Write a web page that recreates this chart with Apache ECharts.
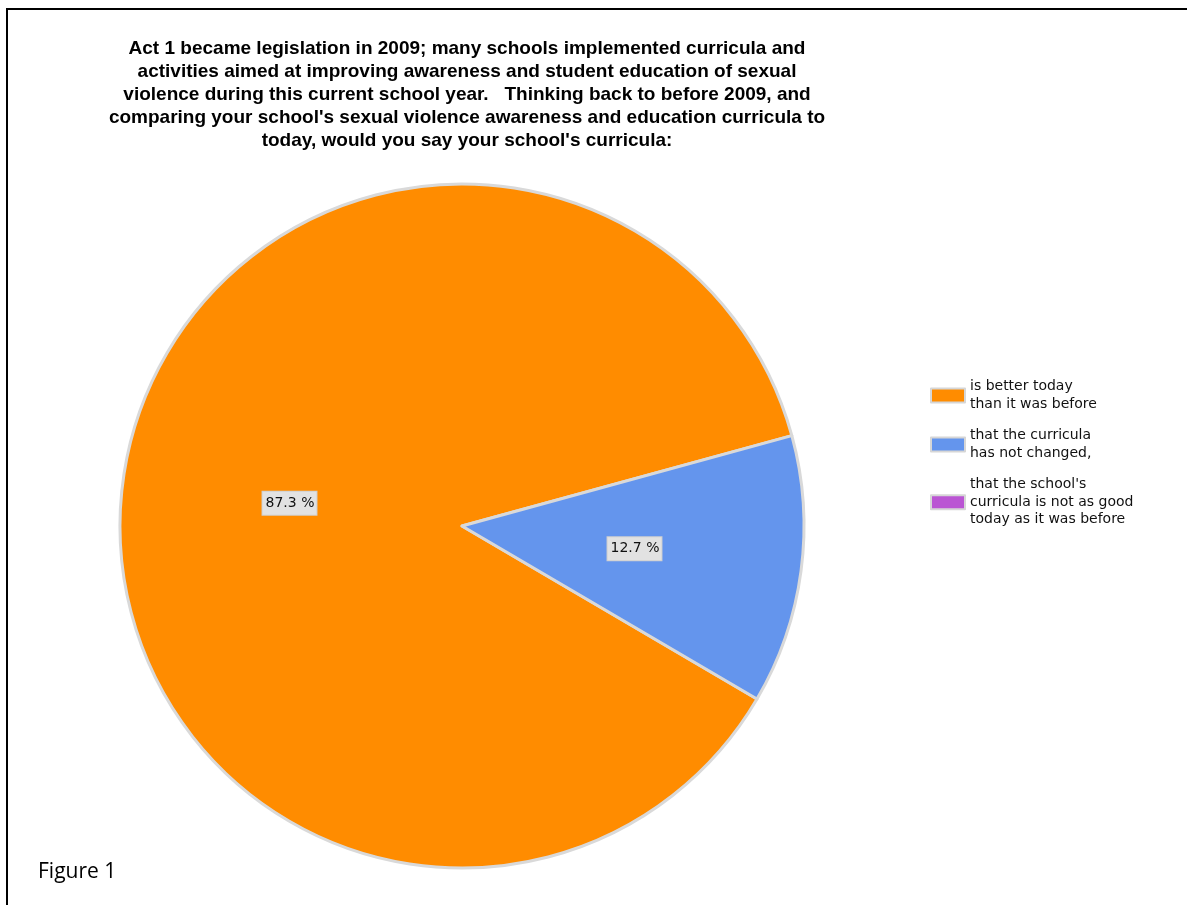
<!DOCTYPE html>
<html>
<head>
<meta charset="utf-8">
<title>Act 1 curricula survey</title>
<script src="https://cdn.jsdelivr.net/npm/echarts@6/dist/echarts.min.js"></script>
<style>
  html, body { margin: 0; padding: 0; background: #ffffff; }
  #chart { width: 1187px; height: 905px; }
</style>
</head>
<body>
<div id="chart"></div>
<script>
// Survey answers and their shares (percent)
const categories = [
  'is better today\nthan it was before',
  'that the curricula\nhas not changed,',
  "that the school's\ncurricula is not as good\ntoday as it was before"
];
const shares = [87.3, 12.7, 0];
const sliceColors = ['#FF8C00', '#6495ED', '#BA55D3'];

const titleText = "Act 1 became legislation in 2009; many schools implemented curricula and\n" +
  "activities aimed at improving awareness and student education of sexual\n" +
  "violence during this current school year.   Thinking back to before 2009, and\n" +
  "comparing your school's sexual violence awareness and education curricula to\n" +
  "today, would you say your school's curricula:";

const chart = echarts.init(document.getElementById('chart'), null, { renderer: 'canvas' });

const pieData = categories.map((name, i) => {
  const item = {
    name: name,
    value: shares[i],
    itemStyle: { color: sliceColors[i] }
  };
  if (shares[i] === 0) {
    item.label = { show: false };
    item.itemStyle.borderWidth = 0;
  }
  return item;
});

chart.setOption({
  animation: false,
  backgroundColor: '#ffffff',
  title: {
    text: titleText,
    left: 462,
    top: 32,
    textAlign: 'center',
    textStyle: {
      fontFamily: 'Liberation Sans, Arial, sans-serif',
      fontWeight: 'bold',
      fontSize: 19,
      lineHeight: 23,
      color: '#000000'
    }
  },
  legend: {
    orient: 'vertical',
    left: 925,
    top: 373,
    itemWidth: 34,
    itemHeight: 14,
    itemGap: 14,
    icon: 'rect',
    selectedMode: false,
    itemStyle: { borderColor: '#d6d6d6', borderWidth: 2 },
    textStyle: {
      fontFamily: 'DejaVu Sans, Verdana, sans-serif',
      fontSize: 14,
      lineHeight: 17.5,
      color: '#111111'
    },
    data: categories
  },
  series: [{
    type: 'pie',
    center: [462, 526],
    radius: 342,
    startAngle: 329.6,
    clockwise: true,
    silent: true,
    avoidLabelOverlap: false,
    itemStyle: { borderColor: '#d9d9d9', borderWidth: 3 },
    label: {
      show: true,
      position: 'inside',
      formatter: p => p.value.toFixed(1) + ' %',
      fontFamily: 'DejaVu Sans, Verdana, sans-serif',
      fontSize: 14,
      color: '#111111',
      backgroundColor: '#e2e2e2',
      borderColor: '#cfcfcf',
      borderWidth: 1,
      padding: [5, 2, 4, 3]
    },
    labelLine: { show: false },
    data: pieData
  }],
  graphic: [
    // frame along the left and top edges
    { type: 'line', shape: { x1: 7, y1: 9, x2: 7, y2: 905 }, style: { stroke: '#000', lineWidth: 2 } },
    { type: 'line', shape: { x1: 6, y1: 9, x2: 1187, y2: 9 }, style: { stroke: '#000', lineWidth: 2 } },
    {
      type: 'text', left: 38, top: 862,
      style: { text: 'Figure 1', font: '21px "Open Sans", "Liberation Sans", sans-serif', fill: '#000' }
    }
  ]
});
</script>
</body>
</html>
